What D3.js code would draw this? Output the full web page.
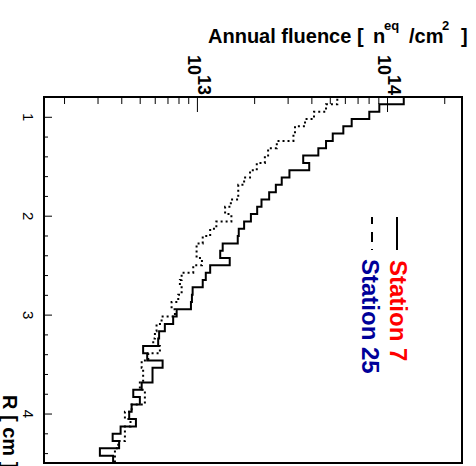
<!DOCTYPE html>
<html><head><meta charset="utf-8">
<script src="https://cdn.jsdelivr.net/npm/d3@7"></script>
<style>html,body{margin:0;padding:0;background:#fff;} svg{display:block;}</style>
</head><body>
<script>
// Histogram binning: 50 bins in R starting at 0.8 cm
const binStart = 0.8;
const binWidth = 0.074;

// Annual fluence per bin [n_eq / cm^2]
const station7 = [
  1.21e14, 9.0e13, 7.97e13, 6.44e13, 5.82e13, 5.12e13, 4.72e13, 4.30e13, 3.58e13, 3.85e13,
  3.03e13, 2.76e13, 2.57e13, 2.37e13, 2.16e13, 2.05e13, 1.90e13, 1.75e13, 1.64e13, 1.62e13,
  1.35e13, 1.31e13, 1.47e13, 1.16e13, 1.10e13, 1.06e13, 9.38e12, 9.30e12, 9.19e12, 7.73e12,
  7.41e12, 6.70e12, 6.25e12, 6.18e12, 5.15e12, 5.41e12, 6.52e12, 5.77e12, 5.77e12, 5.06e12,
  4.57e12, 4.95e12, 4.48e12, 4.35e12, 4.72e12, 3.92e12, 3.56e12, 3.85e12, 3.05e12, 3.58e12
];
const station25 = [
  5.41e13, 4.72e13, 4.08e13, 3.66e13, 3.24e13, 3.18e13, 2.60e13, 2.34e13, 2.25e13, 2.04e13,
  1.88e13, 1.75e13, 1.63e13, 1.63e13, 1.49e13, 1.39e13, 1.50e13, 1.25e13, 1.16e13, 1.06e13,
  9.84e12, 9.84e12, 1.05e13, 9.45e12, 8.21e12, 8.04e12, 8.21e12, 7.88e12, 7.27e12, 7.57e12,
  6.44e12, 6.06e12, 5.94e12, 5.82e12, 6.31e12, 5.48e12, 5.06e12, 5.15e12, 5.15e12, 4.95e12,
  5.26e12, 5.26e12, 4.48e12, 4.13e12, 4.42e12, 4.13e12, 4.13e12, 3.81e12, 3.66e12, 3.66e12
];

const rDomain = [0.8, 4.5];
const fluenceDomain = [1.55e12, 2.45e14];
const rTicks = [1, 2, 3, 4];
const rMinorTicks = [1.2, 1.4, 1.6, 1.8, 2.2, 2.4, 2.6, 2.8, 3.2, 3.4, 3.6, 3.8, 4.2, 4.4];
const fluenceTicks = [1e13, 1e14];
const fluenceTickBase = ["10", "10"];
const fluenceTickExp = ["13", "14"];
const fluenceMinorTicks = [2e12, 3e12, 4e12, 5e12, 6e12, 7e12, 8e12, 9e12,
  2e13, 3e13, 4e13, 5e13, 6e13, 7e13, 8e13, 9e13, 2e14];
const legendLabels = ["Station 7", "Station 25"];
const legendColors = ["#ff0000", "#000099"];

const FONT = "'Liberation Sans', Arial, Helvetica, sans-serif";
const W = 366, H = 418; // unrotated plot size

const svg = d3.select("body").append("svg").attr("width", 476).attr("height", 466)
  .style("font-family", FONT);

const g = svg.append("g").attr("transform", "translate(462,97) rotate(90)");

const x = d3.scaleLinear().domain(rDomain).range([0, W]);
const y = d3.scaleLog().domain(fluenceDomain).range([H, 0]);

// Histograms
function histPoints(vals) {
  const pts = [[binStart, fluenceDomain[0]]];
  vals.forEach((v, i) => {
    const lo = binStart + i * binWidth, hi = lo + binWidth;
    pts.push([lo, v], [hi, v]);
  });
  pts.push([binStart + vals.length * binWidth, fluenceDomain[0]]);
  return pts;
}
const line = d3.line().x(d => x(d[0])).y(d => y(d[1]));

g.append("path").datum(histPoints(station25)).attr("d", line)
  .attr("fill", "none").attr("stroke", "#000").attr("stroke-width", 2)
  .attr("stroke-dasharray", "2,3");
g.append("path").datum(histPoints(station7)).attr("d", line)
  .attr("fill", "none").attr("stroke", "#000").attr("stroke-width", 2);

// R axis (bottom of unrotated frame)
const rAxis = g.append("g").attr("transform", `translate(0,${H})`)
  .call(d3.axisBottom(x).tickValues(rTicks).tickSize(-8).tickPadding(10.5).tickFormat(d3.format("d")));
rAxis.select(".domain").remove();
rAxis.selectAll("text").attr("font-size", 15).attr("font-family", FONT).attr("fill", "#000");
const rMinor = g.append("g").attr("transform", `translate(0,${H})`)
  .call(d3.axisBottom(x).tickValues(rMinorTicks).tickSize(-4).tickFormat(""));
rMinor.select(".domain").remove();

// Fluence axis (left of unrotated frame)
const fAxis = g.append("g")
  .call(d3.axisLeft(y).tickValues(fluenceTicks).tickSize(-15).tickFormat(""));
fAxis.select(".domain").remove();
const fMinor = g.append("g")
  .call(d3.axisLeft(y).tickValues(fluenceMinorTicks).tickSize(-7).tickFormat(""));
fMinor.select(".domain").remove();

const fl = g.append("g").selectAll("text").data(fluenceTicks).join("text")
  .attr("x", -2).attr("y", d => y(d) + 10)
  .attr("text-anchor", "end").attr("font-size", 18).attr("font-weight", "bold");
fl.append("tspan").text((d, i) => fluenceTickBase[i]);
fl.append("tspan").attr("dy", -10).text((d, i) => fluenceTickExp[i]);

// Frame
g.append("rect").attr("x", 0).attr("y", 0).attr("width", W).attr("height", H)
  .attr("fill", "none").attr("stroke", "#000").attr("stroke-width", 2);

// R axis title
g.append("text").attr("x", 298).attr("y", 459)
  .attr("font-size", 20).attr("font-weight", "bold").text("R [ cm ]");

// Legend
const legY = [65, 90];
const legDash = [null, "7,8,10,7"];
legendLabels.forEach((lab, i) => {
  g.append("line").attr("x1", 120).attr("x2", 153).attr("y1", legY[i]).attr("y2", legY[i])
    .attr("stroke", "#000").attr("stroke-width", 2).attr("stroke-dasharray", legDash[i]);
  g.append("text").attr("x", 163 - i).attr("y", legY[i] + 7 + i * 3)
    .attr("font-size", 24).attr("font-weight", "bold").attr("fill", legendColors[i]).text(lab);
});

// Fluence axis title (horizontal after rotation)
const t = svg.append("text").attr("y", 43).attr("font-size", 20).attr("font-weight", "bold");
t.append("tspan").attr("x", 208).text("Annual fluence [");
t.append("tspan").attr("x", 373).text("n");
t.append("tspan").attr("x", 384).attr("y", 30).attr("font-size", 13).text("eq");
t.append("tspan").attr("x", 409).attr("y", 43).text("/cm");
t.append("tspan").attr("x", 442).attr("y", 30).attr("font-size", 13).text("2");
t.append("tspan").attr("x", 461).attr("y", 43).text("]");
</script>
</body></html>
